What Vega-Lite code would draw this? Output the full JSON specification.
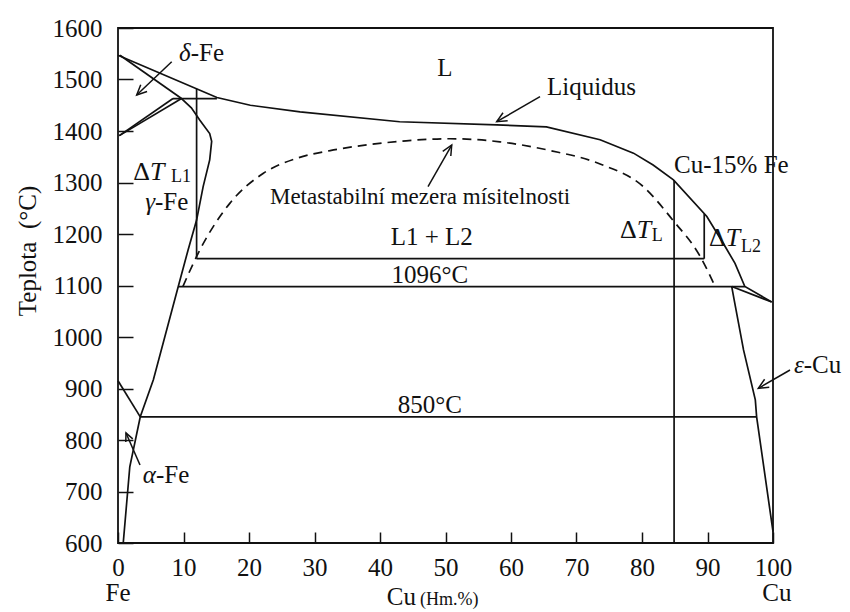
{
  "$schema": "https://vega.github.io/schema/vega-lite/v6.json",
  "width": 655,
  "height": 515,
  "autosize": {"type": "none"},
  "padding": {"left": 118, "top": 28, "right": 77, "bottom": 69},
  "background": "white",
  "config": {
    "view": {"stroke": "#111", "strokeWidth": 1.8},
    "font": "Liberation Serif",
    "text": {"font": "Liberation Serif", "color": "#111"},
    "axis": {
      "domain": false,
      "grid": false,
      "ticks": true,
      "title": null,
      "tickColor": "#111",
      "tickOpacity": 1,
      "tickWidth": 1.5,
      "labelFont": "Liberation Serif",
      "labelFontSize": 25,
      "labelColor": "#111",
      "labelFlush": false,
      "labelOverlap": false
    }
  },
  "resolve": {"axis": {"x": "independent", "y": "independent"}},
  "datasets": {
    "lines": [
      {"s": "liq", "o": 0, "x": 0, "t": 1547},
      {"s": "liq", "o": 1, "x": 15.1, "t": 1465},
      {"s": "liq", "o": 2, "x": 20.2, "t": 1450},
      {"s": "liq", "o": 3, "x": 27.8, "t": 1437},
      {"s": "liq", "o": 4, "x": 43, "t": 1418},
      {"s": "liq", "o": 5, "x": 57.8, "t": 1412},
      {"s": "liq", "o": 6, "x": 65.4, "t": 1408},
      {"s": "liq", "o": 7, "x": 73.6, "t": 1383},
      {"s": "liq", "o": 8, "x": 78.7, "t": 1357},
      {"s": "liq", "o": 9, "x": 81.7, "t": 1334},
      {"s": "liq", "o": 10, "x": 84.8, "t": 1305},
      {"s": "liq", "o": 11, "x": 89.9, "t": 1234},
      {"s": "liq", "o": 12, "x": 92.4, "t": 1182},
      {"s": "liq", "o": 13, "x": 94.2, "t": 1143},
      {"s": "liq", "o": 14, "x": 95.7, "t": 1098},
      {"s": "liq", "o": 15, "x": 99.8, "t": 1068},
      {"s": "dsol", "o": 0, "x": 0.3, "t": 1547},
      {"s": "dsol", "o": 1, "x": 9.7, "t": 1463},
      {"s": "dg1", "o": 0, "x": 0.2, "t": 1391},
      {"s": "dg1", "o": 1, "x": 8.4, "t": 1463},
      {"s": "dg2", "o": 0, "x": 0.2, "t": 1391},
      {"s": "dg2", "o": 1, "x": 9.7, "t": 1463},
      {"s": "per", "o": 0, "x": 8.4, "t": 1463},
      {"s": "per", "o": 1, "x": 15.1, "t": 1463},
      {"s": "gsol", "o": 0, "x": 9.7, "t": 1463},
      {"s": "gsol", "o": 1, "x": 11.2, "t": 1445},
      {"s": "gsol", "o": 2, "x": 12.5, "t": 1421},
      {"s": "gsol", "o": 3, "x": 14.0, "t": 1395},
      {"s": "gsol", "o": 4, "x": 14.3, "t": 1380},
      {"s": "gsol", "o": 5, "x": 14.0, "t": 1344},
      {"s": "gsol", "o": 6, "x": 13.0, "t": 1292},
      {"s": "gsol", "o": 7, "x": 12.0, "t": 1227},
      {"s": "gsol", "o": 8, "x": 10.7, "t": 1169},
      {"s": "gsol", "o": 9, "x": 9.2, "t": 1098},
      {"s": "gsol", "o": 10, "x": 5.4, "t": 917},
      {"s": "gsol", "o": 11, "x": 3.4, "t": 845},
      {"s": "gsol", "o": 12, "x": 1.8, "t": 748},
      {"s": "gsol", "o": 13, "x": 0.8, "t": 600},
      {"s": "a3", "o": 0, "x": 0, "t": 915},
      {"s": "a3", "o": 1, "x": 3.4, "t": 845},
      {"s": "e1096", "o": 0, "x": 9.2, "t": 1098},
      {"s": "e1096", "o": 1, "x": 95.7, "t": 1098},
      {"s": "m1150", "o": 0, "x": 12, "t": 1152},
      {"s": "m1150", "o": 1, "x": 89.5, "t": 1152},
      {"s": "e850", "o": 0, "x": 3.4, "t": 845},
      {"s": "e850", "o": 1, "x": 97.5, "t": 845},
      {"s": "v12", "o": 0, "x": 12, "t": 1482},
      {"s": "v12", "o": 1, "x": 12, "t": 1152},
      {"s": "v85", "o": 0, "x": 84.9, "t": 1304},
      {"s": "v85", "o": 1, "x": 84.9, "t": 600},
      {"s": "v895", "o": 0, "x": 89.5, "t": 1239},
      {"s": "v895", "o": 1, "x": 89.5, "t": 1152},
      {"s": "eps", "o": 0, "x": 93.7, "t": 1098},
      {"s": "eps", "o": 1, "x": 94.1, "t": 1070},
      {"s": "eps", "o": 2, "x": 95.5, "t": 975},
      {"s": "eps", "o": 3, "x": 97.3, "t": 878},
      {"s": "eps", "o": 4, "x": 97.5, "t": 845},
      {"s": "eps", "o": 5, "x": 100, "t": 622},
      {"s": "cus", "o": 0, "x": 93.7, "t": 1098},
      {"s": "cus", "o": 1, "x": 99.8, "t": 1068}
    ],
    "dashed": [
      {"o": 0, "x": 9.9, "t": 1098},
      {"o": 1, "x": 12.5, "t": 1169},
      {"o": 2, "x": 17.1, "t": 1260},
      {"o": 3, "x": 22.2, "t": 1318},
      {"o": 4, "x": 27.3, "t": 1347},
      {"o": 5, "x": 32.4, "t": 1362},
      {"o": 6, "x": 38, "t": 1373},
      {"o": 7, "x": 44, "t": 1381},
      {"o": 8, "x": 50.7, "t": 1385},
      {"o": 9, "x": 58.3, "t": 1379},
      {"o": 10, "x": 66, "t": 1362},
      {"o": 11, "x": 73.6, "t": 1336},
      {"o": 12, "x": 80.2, "t": 1292},
      {"o": 13, "x": 84.7, "t": 1227},
      {"o": 14, "x": 88.9, "t": 1156},
      {"o": 15, "x": 91.1, "t": 1100}
    ],
    "arrows": [
      {"s": "d1", "o": 0, "x": 8.2, "t": 1534.6},
      {"s": "d1", "o": 1, "x": 2.855, "t": 1469.9},
      {"s": "d1h", "o": 0, "x": 4.44, "t": 1476.7},
      {"s": "d1h", "o": 1, "x": 2.855, "t": 1469.9},
      {"s": "d1h", "o": 2, "x": 3.47, "t": 1489.8},
      {"s": "lq", "o": 0, "x": 64.43, "t": 1466.6},
      {"s": "lq", "o": 1, "x": 57.82, "t": 1418.1},
      {"s": "lqh", "o": 0, "x": 59.49, "t": 1419.9},
      {"s": "lqh", "o": 1, "x": 57.82, "t": 1418.1},
      {"s": "lqh", "o": 2, "x": 58.78, "t": 1435.5},
      {"s": "mt", "o": 0, "x": 47.33, "t": 1291.9},
      {"s": "mt", "o": 1, "x": 50.95, "t": 1372.8},
      {"s": "mth", "o": 0, "x": 49.58, "t": 1360.5},
      {"s": "mth", "o": 1, "x": 50.95, "t": 1372.8},
      {"s": "mth", "o": 2, "x": 50.81, "t": 1351.5},
      {"s": "al", "o": 0, "x": 3.36, "t": 751.5},
      {"s": "al", "o": 1, "x": 1.22, "t": 813.6},
      {"s": "alh", "o": 0, "x": 1.19, "t": 796.1},
      {"s": "alh", "o": 1, "x": 1.22, "t": 813.6},
      {"s": "alh", "o": 2, "x": 2.25, "t": 802.1},
      {"s": "ep", "o": 0, "x": 102.6, "t": 935.9},
      {"s": "ep", "o": 1, "x": 97.76, "t": 900.4},
      {"s": "eph", "o": 0, "x": 99.43, "t": 902.3},
      {"s": "eph", "o": 1, "x": 97.76, "t": 900.4},
      {"s": "eph", "o": 2, "x": 98.72, "t": 917.9}
    ],
    "xMajor": [
      {"x": 10}, {"x": 20}, {"x": 30}, {"x": 40}, {"x": 50},
      {"x": 60}, {"x": 70}, {"x": 80}, {"x": 90}
    ],
    "xMinor": [
      {"x": 5}, {"x": 15}, {"x": 25}, {"x": 35}, {"x": 45},
      {"x": 55}, {"x": 65}, {"x": 75}, {"x": 85}, {"x": 95}
    ],
    "yMajor": [
      {"t": 700}, {"t": 800}, {"t": 900}, {"t": 1000}, {"t": 1100},
      {"t": 1200}, {"t": 1300}, {"t": 1400}, {"t": 1500}
    ],
    "yMinor": [
      {"t": 650}, {"t": 750}, {"t": 850}, {"t": 950}, {"t": 1050},
      {"t": 1150}, {"t": 1250}, {"t": 1350}, {"t": 1450}, {"t": 1550}
    ],
    "centerLabels": [
      {"label": "L", "x": 49.9, "t": 1522},
      {"label": "L1 + L2", "x": 47.9, "t": 1194},
      {"label": "1096°C", "x": 47.6, "t": 1120},
      {"label": "850°C", "x": 47.6, "t": 868},
      {"label": "Fe", "x": 0, "t": 503},
      {"label": "Cu", "x": 100.6, "t": 503}
    ],
    "leftLabels": [
      {"label": "Liquidus", "x": 65.5, "t": 1485},
      {"label": "Cu-15% Fe", "x": 84.9, "t": 1334}
    ],
    "metaLabel": [
      {"label": "Metastabilní mezera mísitelnosti", "x": 23.2, "t": 1272}
    ],
    "greek": [
      {"g": "δ", "s": "-Fe", "x": 11.1, "t": 1551.5},
      {"g": "γ", "s": "-Fe", "x": 5.65, "t": 1262},
      {"g": "α", "s": "-Fe", "x": 5.8, "t": 732},
      {"g": "ε", "s": "-Cu", "x": 104.7, "t": 946}
    ],
    "deltaT": [
      {"x": 4.89, "t": 1321},
      {"x": 79.2, "t": 1208},
      {"x": 92.8, "t": 1192}
    ],
    "subs": [
      {"label": "L1", "x": 8.1, "t": 1311},
      {"label": "L", "x": 81.5, "t": 1197},
      {"label": "L2", "x": 95.1, "t": 1175}
    ],
    "xTitle": [
      {"a": "Cu", "b": "(Hm.%)", "x": 45.5, "t": 480}
    ],
    "yTitle": [
      {"label": "Teplota\u00a0 (°C)", "x": -13.8, "t": 1167}
    ]
  },
  "encoding": {
    "x": {
      "field": "x",
      "type": "quantitative",
      "scale": {"domain": [0, 100], "nice": false, "zero": false},
      "axis": null
    },
    "y": {
      "field": "t",
      "type": "quantitative",
      "scale": {"domain": [600, 1600], "nice": false, "zero": false},
      "axis": null
    }
  },
  "layer": [
    {
      "data": {"name": "lines"},
      "mark": {"type": "line", "color": "#111", "strokeWidth": 1.7, "clip": false},
      "encoding": {
        "x": {
          "field": "x",
          "type": "quantitative",
          "scale": {"domain": [0, 100], "nice": false, "zero": false},
          "axis": {
            "orient": "bottom",
            "values": [0, 10, 20, 30, 40, 50, 60, 70, 80, 90, 100],
            "labelExpr": "'' + datum.value",
            "offset": -11,
            "tickSize": 11,
            "labelPadding": 12
          }
        },
        "y": {
          "field": "t",
          "type": "quantitative",
          "scale": {"domain": [600, 1600], "nice": false, "zero": false},
          "axis": {
            "orient": "left",
            "values": [600, 700, 800, 900, 1000, 1100, 1200, 1300, 1400, 1500, 1600],
            "labelExpr": "'' + datum.value",
            "offset": -15,
            "tickSize": 15,
            "labelPadding": 16
          }
        },
        "detail": {"field": "s"},
        "order": {"field": "o", "type": "quantitative"}
      }
    },
    {
      "data": {"name": "dashed"},
      "mark": {"type": "line", "color": "#111", "strokeWidth": 1.7, "strokeDash": [9, 6], "interpolate": "monotone"},
      "encoding": {"order": {"field": "o", "type": "quantitative"}}
    },
    {
      "data": {"name": "arrows"},
      "mark": {"type": "line", "color": "#111", "strokeWidth": 1.5, "clip": false},
      "encoding": {"detail": {"field": "s"}, "order": {"field": "o", "type": "quantitative"}}
    },
    {
      "data": {"name": "xMajor"},
      "mark": {"type": "rule", "color": "#111", "strokeWidth": 1.5},
      "encoding": {"y": {"datum": 600, "type": "quantitative", "axis": null}, "y2": {"datum": 621.4}}
    },
    {
      "data": {"name": "xMinor"},
      "mark": {"type": "rule", "color": "#111", "strokeWidth": 1.5},
      "encoding": {"y": {"datum": 600, "type": "quantitative", "axis": null}, "y2": {"datum": 611.7}}
    },
    {
      "data": {"name": "yMajor"},
      "mark": {"type": "rule", "color": "#111", "strokeWidth": 1.5},
      "encoding": {"x": {"datum": 0, "type": "quantitative", "axis": null}, "x2": {"datum": 2.29}}
    },
    {
      "data": {"name": "yMinor"},
      "mark": {"type": "rule", "color": "#111", "strokeWidth": 1.5},
      "encoding": {"x": {"datum": 0, "type": "quantitative", "axis": null}, "x2": {"datum": 1.22}}
    },
    {
      "data": {"name": "centerLabels"},
      "mark": {"type": "text", "fontSize": 25, "align": "center", "baseline": "middle"},
      "encoding": {"text": {"field": "label"}}
    },
    {
      "data": {"name": "leftLabels"},
      "mark": {"type": "text", "fontSize": 25, "align": "left", "baseline": "middle"},
      "encoding": {"text": {"field": "label"}}
    },
    {
      "data": {"name": "metaLabel"},
      "mark": {"type": "text", "fontSize": 23, "align": "left", "baseline": "middle"},
      "encoding": {"text": {"field": "label"}}
    },
    {
      "data": {"name": "greek"},
      "mark": {"type": "text", "fontSize": 25, "fontStyle": "italic", "align": "right", "baseline": "middle"},
      "encoding": {"text": {"field": "g"}}
    },
    {
      "data": {"name": "greek"},
      "mark": {"type": "text", "fontSize": 25, "align": "left", "baseline": "middle"},
      "encoding": {"text": {"field": "s"}}
    },
    {
      "data": {"name": "deltaT"},
      "mark": {"type": "text", "fontSize": 26, "align": "right", "baseline": "middle", "text": "Δ"},
      "encoding": {}
    },
    {
      "data": {"name": "deltaT"},
      "mark": {"type": "text", "fontSize": 26, "fontStyle": "italic", "align": "left", "baseline": "middle", "text": "T"},
      "encoding": {}
    },
    {
      "data": {"name": "subs"},
      "mark": {"type": "text", "fontSize": 18, "align": "left", "baseline": "middle"},
      "encoding": {"text": {"field": "label"}}
    },
    {
      "data": {"name": "xTitle"},
      "mark": {"type": "text", "fontSize": 25, "align": "right", "baseline": "alphabetic"},
      "encoding": {"text": {"field": "a"}}
    },
    {
      "data": {"name": "xTitle"},
      "mark": {"type": "text", "fontSize": 18, "align": "left", "baseline": "alphabetic", "dx": 4},
      "encoding": {"text": {"field": "b"}}
    },
    {
      "data": {"name": "yTitle"},
      "mark": {"type": "text", "fontSize": 25, "align": "center", "baseline": "middle", "angle": 270},
      "encoding": {"text": {"field": "label"}}
    }
  ]
}
